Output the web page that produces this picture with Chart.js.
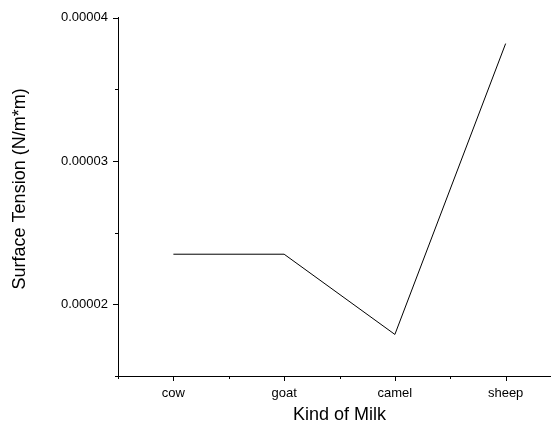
<!DOCTYPE html>
<html>
<head>
<meta charset="utf-8">
<script src="https://cdn.jsdelivr.net/npm/chart.js@4.4.1/dist/chart.umd.min.js"></script>
<style>
  html, body { margin: 0; padding: 0; background: #fff; overflow: hidden; width: 551px; height: 431px; }
  canvas { display: block; }
</style>
</head>
<body>
<canvas id="c" width="575" height="431"></canvas>
<script>
const categories = ['cow', 'goat', 'camel', 'sheep'];
const tension = [0.0000235, 0.0000235, 0.0000179, 0.0000382];
const yMajorTicks = [0.00002, 0.00003, 0.00004];
const yTickLabels = ['0.00002', '0.00003', '0.00004'];
const yMinorTicks = [0.000015, 0.000025, 0.000035];
const xMinorTicks = [-0.5, 0.5, 1.5, 2.5, 3.5];
const yTitle = 'Surface Tension (N/m*m)';
const xTitle = 'Kind of Milk';

const FONT = '"Liberation Sans", Arial, sans-serif';

const tickPlugin = {
  id: 'ticks',
  afterDraw(chart) {
    const ctx = chart.ctx;
    const xs = chart.scales.x, ys = chart.scales.y;
    const area = chart.chartArea;
    ctx.save();
    ctx.strokeStyle = '#000';
    ctx.lineWidth = 1;
    ctx.beginPath();
    categories.forEach((c, i) => {
      const px = Math.round(xs.getPixelForValue(i)) + 0.5;
      ctx.moveTo(px, area.bottom); ctx.lineTo(px, area.bottom + 5);
    });
    xMinorTicks.forEach(v => {
      const px = Math.round(xs.getPixelForValue(v)) + 0.5;
      ctx.moveTo(px, area.bottom); ctx.lineTo(px, area.bottom + 3);
    });
    yMajorTicks.forEach(v => {
      const py = Math.round(ys.getPixelForValue(v)) + 0.5;
      ctx.moveTo(area.left, py); ctx.lineTo(area.left - 5, py);
    });
    yMinorTicks.forEach(v => {
      const py = Math.round(ys.getPixelForValue(v)) + 0.5;
      ctx.moveTo(area.left, py); ctx.lineTo(area.left - 3, py);
    });
    ctx.stroke();
    // y axis title
    ctx.fillStyle = '#000';
    ctx.font = '18px ' + FONT;
    ctx.textAlign = 'center';
    ctx.textBaseline = 'middle';
    ctx.translate(20, (area.top + area.bottom) / 2 - 8);
    ctx.rotate(-Math.PI / 2);
    ctx.fillText(yTitle, 0, 0);
    ctx.restore();
  }
};

new Chart(document.getElementById('c'), {
  type: 'line',
  data: {
    datasets: [{
      data: categories.map((c, i) => ({ x: i, y: tension[i] })),
      borderColor: '#000',
      borderWidth: 1,
      pointRadius: 0,
      tension: 0,
      fill: false
    }]
  },
  options: {
    responsive: false,
    devicePixelRatio: 1,
    animation: false,
    layout: { padding: { left: 0, top: 17, right: 14, bottom: 0 } },
    plugins: { legend: { display: false }, tooltip: { enabled: false } },
    scales: {
      x: {
        type: 'linear',
        min: -0.5,
        max: 3.5,
        afterFit: s => { s.height = 55; },
        afterBuildTicks: s => { s.ticks = categories.map((c, i) => ({ value: i })); },
        grid: { display: false, drawTicks: false },
        border: { display: true, color: '#000', width: 1 },
        ticks: {
          color: '#000',
          font: { family: FONT, size: 13 },
          padding: 10,
          maxRotation: 0,
          callback: (v) => categories[v]
        },
        title: {
          display: true,
          text: xTitle,
          color: '#000',
          font: { family: FONT, size: 18 },
          padding: { top: 0, bottom: 5 }
        }
      },
      y: {
        type: 'linear',
        min: 0.000015,
        max: 0.00004,
        afterFit: s => { s.width = 118; },
        afterBuildTicks: s => { s.ticks = yMajorTicks.map(v => ({ value: v })); },
        grid: { display: false, drawTicks: false },
        border: { display: true, color: '#000', width: 1 },
        ticks: {
          color: '#000',
          font: { family: FONT, size: 13 },
          padding: 10,
          callback: (v) => yTickLabels[yMajorTicks.indexOf(v)]
        },
        title: { display: false }
      }
    }
  },
  plugins: [tickPlugin]
});
</script>
</body>
</html>
